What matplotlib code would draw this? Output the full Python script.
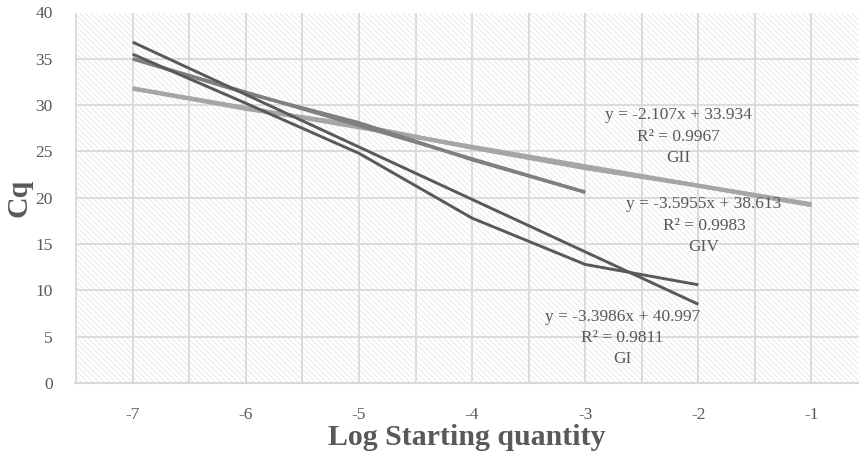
import matplotlib
matplotlib.use("Agg")
import matplotlib.pyplot as plt
from matplotlib.patches import Rectangle
import numpy as np

plt.rcParams['font.family'] = ['Liberation Serif', 'DejaVu Serif']
plt.rcParams['hatch.linewidth'] = 0.5
plt.rcParams['axes.unicode_minus'] = False

# GI
x_gi = [-7, -6, -5, -4, -3, -2]
cq_gi = [35.5, 30.2, 24.8, 17.8, 12.8, 10.6]
x_gi_trend = [-7, -2]
cq_gi_trend = [36.8, 8.5]

# GIV
x_giv = [-7, -6, -5, -4, -3]
cq_giv = [35.0, 31.3, 28.1, 24.1, 20.6]
x_giv_trend = [-7, -3]
cq_giv_trend = [35.0, 20.6]

# GII
x_gii = [-7, -6, -5, -4, -3, -2, -1]
cq_gii = [31.8, 29.6, 27.8, 25.4, 23.2, 21.3, 19.3]
x_gii_trend = [-7, -1]
cq_gii_trend = [31.8, 19.2]

labels = {
    "GII": ("y = -2.107x + 33.934\nR² = 0.9967\nGII", -2.18, 26.6),
    "GIV": ("y = -3.5955x + 38.613\nR² = 0.9983\nGIV", -1.95, 17.0),
    "GI": ("y = -3.3986x + 40.997\nR² = 0.9811\nGI", -2.67, 4.85),
}

dark = "#595959"
mid = "#7f7f7f"
light = "#a6a6a6"
grid_c = "#d9d9d9"
txt_c = "#595959"

fig = plt.figure(figsize=(8.59, 4.54), dpi=100)
ax = fig.add_axes([75 / 859, 71 / 454, 784 / 859, 370.5 / 454])

ax.add_patch(Rectangle((0, 0), 1, 1, transform=ax.transAxes, facecolor="white",
                       edgecolor="#e2e2e2", hatch="\\\\\\\\\\\\", lw=0, zorder=0))

ax.set_xlim(-7.51, -0.58)
ax.set_ylim(0, 40)
ax.set_xticks(np.arange(-7, 0, 1))
ax.set_xticks(np.arange(-7.5, -0.5, 0.5), minor=True)
ax.set_yticks(np.arange(0, 41, 5))
ax.grid(True, which="both", axis="x", color=grid_c, lw=1.3, zorder=1)
ax.grid(True, which="major", axis="y", color=grid_c, lw=1.3, zorder=1)
ax.set_axisbelow(True)

for s in ["top", "right", "left"]:
    ax.spines[s].set_visible(False)
ax.spines["bottom"].set_color(grid_c)
ax.spines["bottom"].set_linewidth(1.5)
ax.tick_params(which="both", length=0)
ax.tick_params(axis="x", labelsize=12.5, colors=txt_c, pad=17)
ax.tick_params(axis="y", labelsize=12.5, colors=txt_c, pad=16)

ax.plot(x_gii, cq_gii, color=light, lw=3.0, zorder=3, solid_capstyle="butt")
ax.plot(x_gii_trend, cq_gii_trend, color=light, lw=3.0, zorder=3, solid_capstyle="butt")
ax.plot(x_giv, cq_giv, color=mid, lw=2.4, zorder=4, solid_capstyle="butt")
ax.plot(x_giv_trend, cq_giv_trend, color=mid, lw=2.4, zorder=4, solid_capstyle="butt")
ax.plot(x_gi, cq_gi, color=dark, lw=2.1, zorder=5, solid_capstyle="butt")
ax.plot(x_gi_trend, cq_gi_trend, color=dark, lw=2.1, zorder=5, solid_capstyle="butt")

for k, (t, tx, ty) in labels.items():
    ax.text(tx, ty, t, ha="center", va="center", fontsize=12.5, color=txt_c,
            linespacing=1.45, zorder=6)

ax.set_xlabel("Log Starting quantity", fontsize=21.5, fontweight="bold", color=txt_c, labelpad=1)
ax.set_ylabel("Cq", fontsize=21.5, fontweight="bold", color=txt_c, labelpad=2)

fig.savefig("out.png", dpi=100)
